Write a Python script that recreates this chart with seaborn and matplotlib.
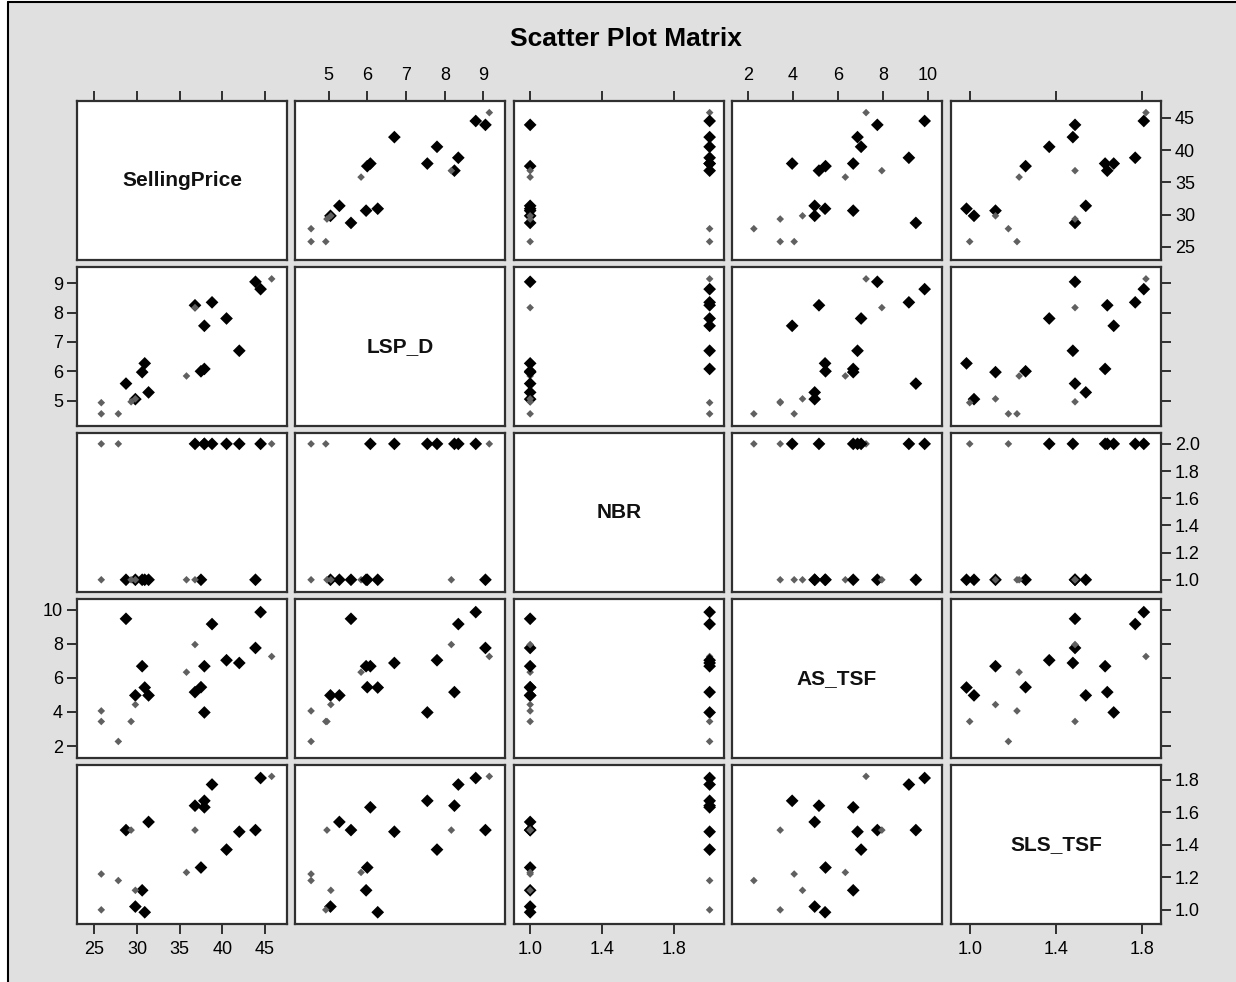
import matplotlib
matplotlib.use("Agg")
import matplotlib.pyplot as plt
import seaborn as sns
import pandas as pd
from matplotlib.patches import Rectangle
from matplotlib.lines import Line2D
from matplotlib.ticker import FormatStrFormatter

# ---------------- data ----------------
selling_price = [45.8, 44.5, 43.9, 42.0, 40.5, 38.8, 37.9, 37.9, 37.5, 36.8, 35.8,
                 31.35, 30.9, 30.6, 29.8, 29.8, 28.7, 27.8, 25.8, 25.8, 36.8, 29.3]
lsp_d = [9.15, 8.8, 9.05, 6.7, 7.8, 8.35, 7.55, 6.08, 6.0, 8.25, 5.84,
         5.28, 6.27, 5.97, 5.05, 5.06, 5.58, 4.55, 4.55, 4.93, 8.17, 4.96]
nbr = [2, 2, 1, 2, 2, 2, 2, 2, 1, 2, 1,
       1, 1, 1, 1, 1, 1, 2, 1, 2, 1, 1]
as_tsf = [7.25, 9.85, 7.75, 6.87, 7.03, 9.15, 3.97, 6.68, 5.45, 5.16, 6.33,
          4.97, 5.43, 6.68, 4.97, 4.43, 9.46, 2.27, 4.06, 3.44, 7.95, 3.44]
sls_tsf = [1.82, 1.81, 1.49, 1.48, 1.37, 1.77, 1.67, 1.63, 1.26, 1.64, 1.23,
           1.54, 0.985, 1.12, 1.02, 1.12, 1.49, 1.18, 1.22, 1.0, 1.49, 1.49]
marker_group = ["small", "big", "big", "big", "big", "big", "big", "big", "big", "big", "small",
                "big", "big", "big", "big", "small", "big", "small", "small", "small", "small", "small"]

variables = ["SellingPrice", "LSP_D", "NBR", "AS_TSF", "SLS_TSF"]
row_ticks = {"SellingPrice": [25, 30, 35, 40, 45], "LSP_D": [5, 6, 7, 8, 9],
             "NBR": [1.0, 1.2, 1.4, 1.6, 1.8, 2.0], "AS_TSF": [2, 4, 6, 8, 10],
             "SLS_TSF": [1.0, 1.2, 1.4, 1.6, 1.8]}
col_ticks = {"SellingPrice": [25, 30, 35, 40, 45], "LSP_D": [5, 6, 7, 8, 9],
             "NBR": [1.0, 1.4, 1.8], "AS_TSF": [2, 4, 6, 8, 10],
             "SLS_TSF": [1.0, 1.4, 1.8]}
tick_fmt = {"SellingPrice": "%d", "LSP_D": "%d", "NBR": "%.1f", "AS_TSF": "%d", "SLS_TSF": "%.1f"}

df = pd.DataFrame({"SellingPrice": selling_price, "LSP_D": lsp_d, "NBR": nbr,
                   "AS_TSF": as_tsf, "SLS_TSF": sls_tsf, "grp": marker_group})

# axis extents (SAS-style padded ranges)
limits = {"SellingPrice": (22.95, 47.6), "LSP_D": (4.135, 9.555), "NBR": (0.91, 2.08),
          "AS_TSF": (1.30, 10.62), "SLS_TSF": (0.913, 1.89)}

# ---------------- style ----------------
sns.set_theme(style="white")
plt.rcParams["font.family"] = ["Liberation Sans", "DejaVu Sans"]
tick_family = ["Liberation Sans Narrow", "Liberation Sans", "DejaVu Sans"]

W, H = 1236, 982
fig = plt.figure(figsize=(W / 100, H / 100), dpi=100)
fig.patch.set_facecolor("white")
fig.patches.append(Rectangle((8 / W, 0), 1 - 8 / W, 1 - 2 / H, transform=fig.transFigure,
                             facecolor="#e0e0e0", edgecolor="none", zorder=-10))
fig.add_artist(Line2D([8 / W, 1], [1 - 2 / H, 1 - 2 / H], color="black", lw=1.5,
                      transform=fig.transFigure))
fig.add_artist(Line2D([8 / W, 8 / W], [0, 1 - 2 / H], color="black", lw=1.5,
                      transform=fig.transFigure))

fig.text(626 / W, 1 - 39 / H, "Scatter Plot Matrix", ha="center", va="center",
         fontsize=19, fontweight="bold", color="black")

lefts = [77, 295, 514, 732, 951]
tops = [101, 267, 433, 599, 765]
pw, ph = 210, 159

n = len(variables)
for i, vy in enumerate(variables):
    for j, vx in enumerate(variables):
        ax = fig.add_axes([lefts[j] / W, 1 - (tops[i] + ph) / H, pw / W, ph / H])
        ax.set_facecolor("white")
        for s in ax.spines.values():
            s.set_color("#303030")
            s.set_linewidth(1.6)
        if i == j:
            ax.text(0.5, 0.5, vx, transform=ax.transAxes, ha="center", va="center",
                    fontsize=15, fontweight="bold", color="#111111")
        else:
            sns.scatterplot(data=df, x=vx, y=vy, hue="grp", size="grp",
                            palette={"big": "black", "small": "#606060"},
                            sizes={"big": 42, "small": 15}, marker="D",
                            linewidth=0, legend=False, ax=ax, zorder=3)
        ax.set_xlim(limits[vx])
        ax.set_ylim(limits[vy])
        ax.set_xlabel("")
        ax.set_ylabel("")
        ax.set_xticks(col_ticks[vx])
        ax.set_yticks(row_ticks[vy])
        ax.xaxis.set_major_formatter(FormatStrFormatter(tick_fmt[vx]))
        ax.yaxis.set_major_formatter(FormatStrFormatter(tick_fmt[vy]))
        ax.tick_params(axis="x", which="both", direction="out", length=7, width=1.1,
                       color="black", labelsize=13,
                       top=(i == 0), labeltop=(i == 0 and j % 2 == 1),
                       bottom=(i == n - 1 and j % 2 == 0),
                       labelbottom=(i == n - 1 and j % 2 == 0), pad=5)
        ax.tick_params(axis="y", which="both", direction="out", length=7, width=1.1,
                       color="black", labelsize=13,
                       right=(j == n - 1), labelright=(j == n - 1 and i % 2 == 0),
                       left=(j == 0 and i % 2 == 1),
                       labelleft=(j == 0 and i % 2 == 1), pad=3)
        for lab in ax.get_xticklabels() + ax.get_yticklabels():
            lab.set_family(tick_family)
            lab.set_color("black")

fig.savefig("out.png", dpi=100, facecolor=fig.get_facecolor())
